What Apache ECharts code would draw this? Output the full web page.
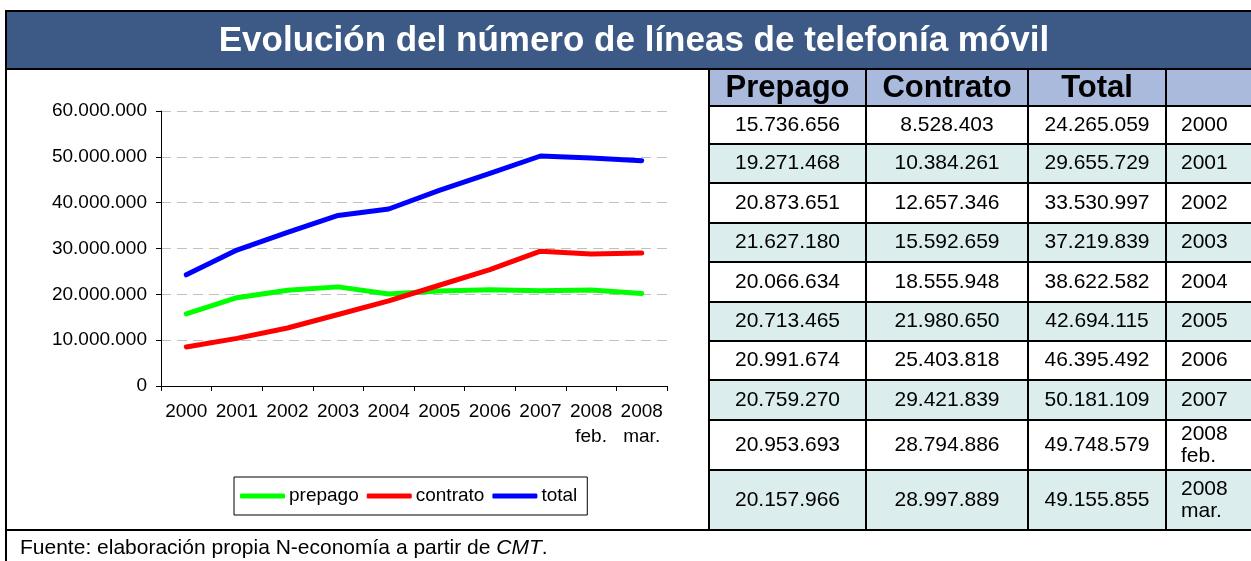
<!DOCTYPE html>
<html>
<head>
<meta charset="utf-8">
<script src="https://cdn.jsdelivr.net/npm/echarts@6/dist/echarts.min.js"></script>
<style>
html,body{margin:0;padding:0;background:#fff;}
#c{width:1251px;height:561px;}
</style>
</head>
<body>
<div id="c"></div>
<script>
// ---- data ----
var titleText = 'Evolución del número de líneas de telefonía móvil';
var categories = ['2000','2001','2002','2003','2004','2005','2006','2007','2008\nfeb.','2008\nmar.'];
var seriesNames = ['prepago','contrato','total'];
var tableHeaders = ['Prepago','Contrato','Total',''];
var prepago  = [15736656,19271468,20873651,21627180,20066634,20713465,20991674,20759270,20953693,20157966];
var contrato = [8528403,10384261,12657346,15592659,18555948,21980650,25403818,29421839,28794886,28997889];
var total    = [24265059,29655729,33530997,37219839,38622582,42694115,46395492,50181109,49748579,49155855];
var yTicks = [0,10000000,20000000,30000000,40000000,50000000,60000000];
var sourcePlain = 'Fuente: elaboración propia N-economía a partir de ';
var sourceItalic = 'CMT';

// ---- helpers ----
function fmt(v){ return String(v).replace(/\B(?=(\d{3})+(?!\d))/g,'.'); }
var FONT = "'Liberation Sans', Arial, Helvetica, sans-serif";

// ---- layout ----
var colX = [709, 866, 1028, 1166, 1251];
var rowY = [69, 106, 144, 183, 223, 262, 302, 341, 380, 420, 470, 530];
var headFill = '#A9BADC', altFill = '#DCEDED';

var g = [];
// title bar
g.push({type:'rect', shape:{x:6,y:11,width:1250,height:58}, style:{fill:'#3D5A87', stroke:'#000', lineWidth:2}, z:10});
g.push({type:'text', style:{text:titleText, x:634, y:41, fill:'#fff', font:'bold 35px '+FONT, textAlign:'center', textVerticalAlign:'middle'}, z:11});

// table backgrounds
g.push({type:'rect', shape:{x:colX[0], y:rowY[0], width:colX[4]-colX[0], height:rowY[1]-rowY[0]}, style:{fill:headFill}, z:10});
for (var r=0;r<prepago.length;r++){
  g.push({type:'rect', shape:{x:colX[0], y:rowY[r+1], width:colX[4]-colX[0], height:rowY[r+2]-rowY[r+1]}, style:{fill: r%2===1 ? altFill : '#fff'}, z:10});
}
// header text
for (var c=0;c<3;c++){
  g.push({type:'text', style:{text:tableHeaders[c], x:(colX[c]+colX[c+1])/2, y:(rowY[0]+rowY[1])/2+1, fill:'#000', font:'bold 31px '+FONT, textAlign:'center', textVerticalAlign:'middle'}, z:12});
}
// body text
var cols = [prepago, contrato, total];
for (var r=0;r<prepago.length;r++){
  var cy = (rowY[r+1]+rowY[r+2])/2;
  for (var c=0;c<3;c++){
    g.push({type:'text', style:{text:fmt(cols[c][r]), x:(colX[c]+colX[c+1])/2, y:cy, fill:'#000', font:'21px '+FONT, textAlign:'center', textVerticalAlign:'middle'}, z:12});
  }
  g.push({type:'text', style:{text:categories[r], x:colX[3]+15, y:cy, fill:'#000', font:'21px '+FONT, lineHeight:22, textAlign:'left', textVerticalAlign:'middle'}, z:12});
}
// table grid lines
for (var i=0;i<rowY.length;i++){
  var x0 = (i===rowY.length-1) ? 6 : colX[0];
  g.push({type:'line', shape:{x1:x0, y1:rowY[i], x2:1251, y2:rowY[i]}, style:{stroke:'#000', lineWidth:2}, z:13});
}
for (var i=0;i<4;i++){
  g.push({type:'line', shape:{x1:colX[i], y1:rowY[0], x2:colX[i], y2:rowY[rowY.length-1]}, style:{stroke:'#000', lineWidth:2}, z:13});
}
// left outer border
g.push({type:'line', shape:{x1:6, y1:11, x2:6, y2:561}, style:{stroke:'#000', lineWidth:2}, z:13});
// source
g.push({type:'text', style:{text:'{a|'+sourcePlain+'}{b|'+sourceItalic+'}{a|.}', x:20, y:548, textAlign:'left', textVerticalAlign:'middle',
  rich:{a:{font:'21px '+FONT, fill:'#000'}, b:{font:'italic 21px '+FONT, fill:'#000'}}}, z:12});

var colors = ['#00FF00','#FF0000','#0000FF'];
var dataSets = [prepago, contrato, total];
var series = seriesNames.map(function(n,i){
  return {name:n, type:'line', data:dataSets[i], symbol:'none', showSymbol:false,
    lineStyle:{color:colors[i], width:5, cap:'round', join:'round'}, itemStyle:{color:colors[i]}, z:5};
});

var chart = echarts.init(document.getElementById('c'), null, {renderer:'canvas'});
chart.setOption({
  animation:false,
  backgroundColor:'#fff',
  textStyle:{fontFamily:FONT},
  grid:{left:161, right:584, top:111, bottom:175, containLabel:false},
  xAxis:{type:'category', data:categories, boundaryGap:true,
    axisLine:{lineStyle:{color:'#000', width:1}},
    axisTick:{show:true, length:5, lineStyle:{color:'#000'}},
    axisLabel:{color:'#000', fontSize:19, fontFamily:FONT, lineHeight:25, margin:13, interval:0},
    splitLine:{show:false}},
  yAxis:{type:'value', min:yTicks[0], max:yTicks[yTicks.length-1], interval:yTicks[1]-yTicks[0],
    axisLine:{show:true, lineStyle:{color:'#000', width:1}},
    axisTick:{show:true, length:5, lineStyle:{color:'#000'}},
    axisLabel:{color:'#000', fontSize:19, fontFamily:FONT, margin:14, formatter:function(v){return fmt(v);}},
    splitLine:{show:true, lineStyle:{color:'#C0C0C0', type:[10,6], width:1}}},
  legend:{data:seriesNames, left:234, top:477, orient:'horizontal',
    icon:'roundRect', itemWidth:45, itemHeight:5, itemGap:8,
    padding:[9,10,9,6], borderColor:'#000', borderWidth:1,
    textStyle:{color:'#000', fontSize:19, fontFamily:FONT, lineHeight:20, padding:[0,0,0,-1]}},
  series:series,
  graphic:{elements:g}
});
</script>
</body>
</html>
